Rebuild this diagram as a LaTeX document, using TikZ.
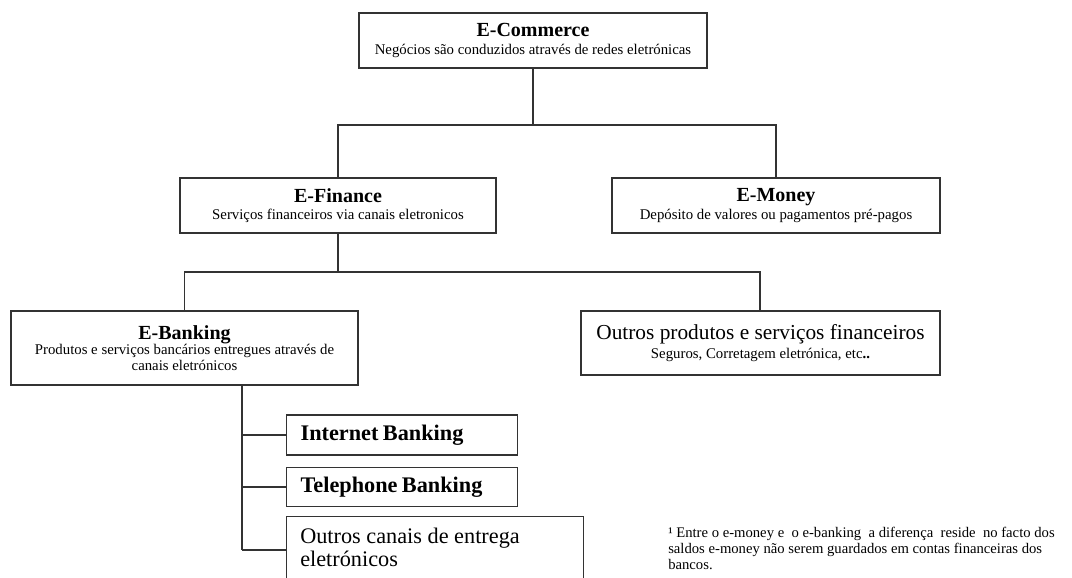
\documentclass[tikz,border=0pt]{standalone}
\usepackage{fontspec}
\setmainfont{Liberation Serif}
\newcommand{\ttlf}{\fontsize{15}{16}\selectfont\bfseries}
\newcommand{\subf}{\fontsize{11.1}{12.5}\selectfont}
\begin{document}
\begin{tikzpicture}[x=0.75pt,y=-0.75pt,
  box/.style={draw=black!80,line width=0.9pt,fill=white,inner sep=0pt,align=center},
  conn/.style={draw=black!80,line width=0.9pt},
]
\clip (0,0) rectangle (1072,578);
\useasboundingbox (0,0) rectangle (1072,578);
% boxes
\node[box,minimum width=348*0.75pt,minimum height=55*0.75pt] (ec) at (533,40.5)
  {{\ttlf E-Commerce}\\[1pt]{\subf Negócios são conduzidos através de redes eletrónicas}};
\node[box,minimum width=316*0.75pt,minimum height=55*0.75pt] (ef) at (338,205.5)
  {{\ttlf E-Finance}\\[1pt]{\subf Serviços financeiros via canais eletronicos}};
\node[box,minimum width=328*0.75pt,minimum height=55*0.75pt] (em) at (776,205.5)
  {{\ttlf E-Money}\\[1pt]{\subf Depósito de valores ou pagamentos pré-pagos}};
\node[box,minimum width=347*0.75pt,minimum height=74*0.75pt] (eb) at (184.5,348)
  {{\ttlf E-Banking}\\[-1pt]{\subf Produtos e serviços bancários entregues através de}\\{\subf canais eletrónicos}};
\node[box,minimum width=359*0.75pt,minimum height=64*0.75pt] (op) at (760.5,343)
  {{\fontsize{16}{18}\selectfont Outros produtos e serviços financeiros}\\[2pt]{\subf Seguros, Corretagem eletrónica, etc\textbf{..}}};
\node[box,minimum width=231*0.75pt,minimum height=40*0.75pt,anchor=west,align=left,text width=203*0.75pt] (ib) at (286,435)
  {\fontsize{16.7}{18}\selectfont\bfseries Internet Banking};
\node[box,minimum width=231*0.75pt,minimum height=39*0.75pt,anchor=west,align=left,text width=203*0.75pt] (tb) at (286,487)
  {\fontsize{16.7}{18}\selectfont\bfseries Telephone Banking};
\node[box,minimum width=297*0.75pt,minimum height=90*0.75pt,anchor=north west] (oc) at (286,516) {};
\node[anchor=north west,align=left,inner sep=0pt,font=\fontsize{16.7}{16.8}\selectfont] (oct) at (300,528)
  {Outros canais de entrega\\eletrónicos};
% footnote
\node[anchor=north west,align=left,inner sep=0pt,font=\fontsize{11}{11.8}\selectfont] (fn) at (668,527)
  {¹ Entre o e-money e~ o e-banking~ a diferença~ reside~ no facto dos\\saldos e-money não serem guardados em contas financeiras dos\\bancos.};
% connectors
\coordinate (j1) at (533,125);
\draw[conn] (ec.south) -- (j1);
\draw[conn] (ef.north) |- (j1) -| (em.north);
\coordinate (j2) at (338,272);
\coordinate (opt) at (760,311);
\draw[conn] (ef.south) -- (j2);
\draw[conn] (eb.north) |- (j2) -| (opt);
\coordinate (ebb) at (242,385);
\coordinate (ebe) at (242,550);
\draw[conn] (ebb) -- (ebe);
\draw[conn] (ib.west) -- (ib.west -| ebb);
\draw[conn] (tb.west) -- (tb.west -| ebb);
\draw[conn] (ebe) -- (ebe -| oc.west);
\end{tikzpicture}
\end{document}
